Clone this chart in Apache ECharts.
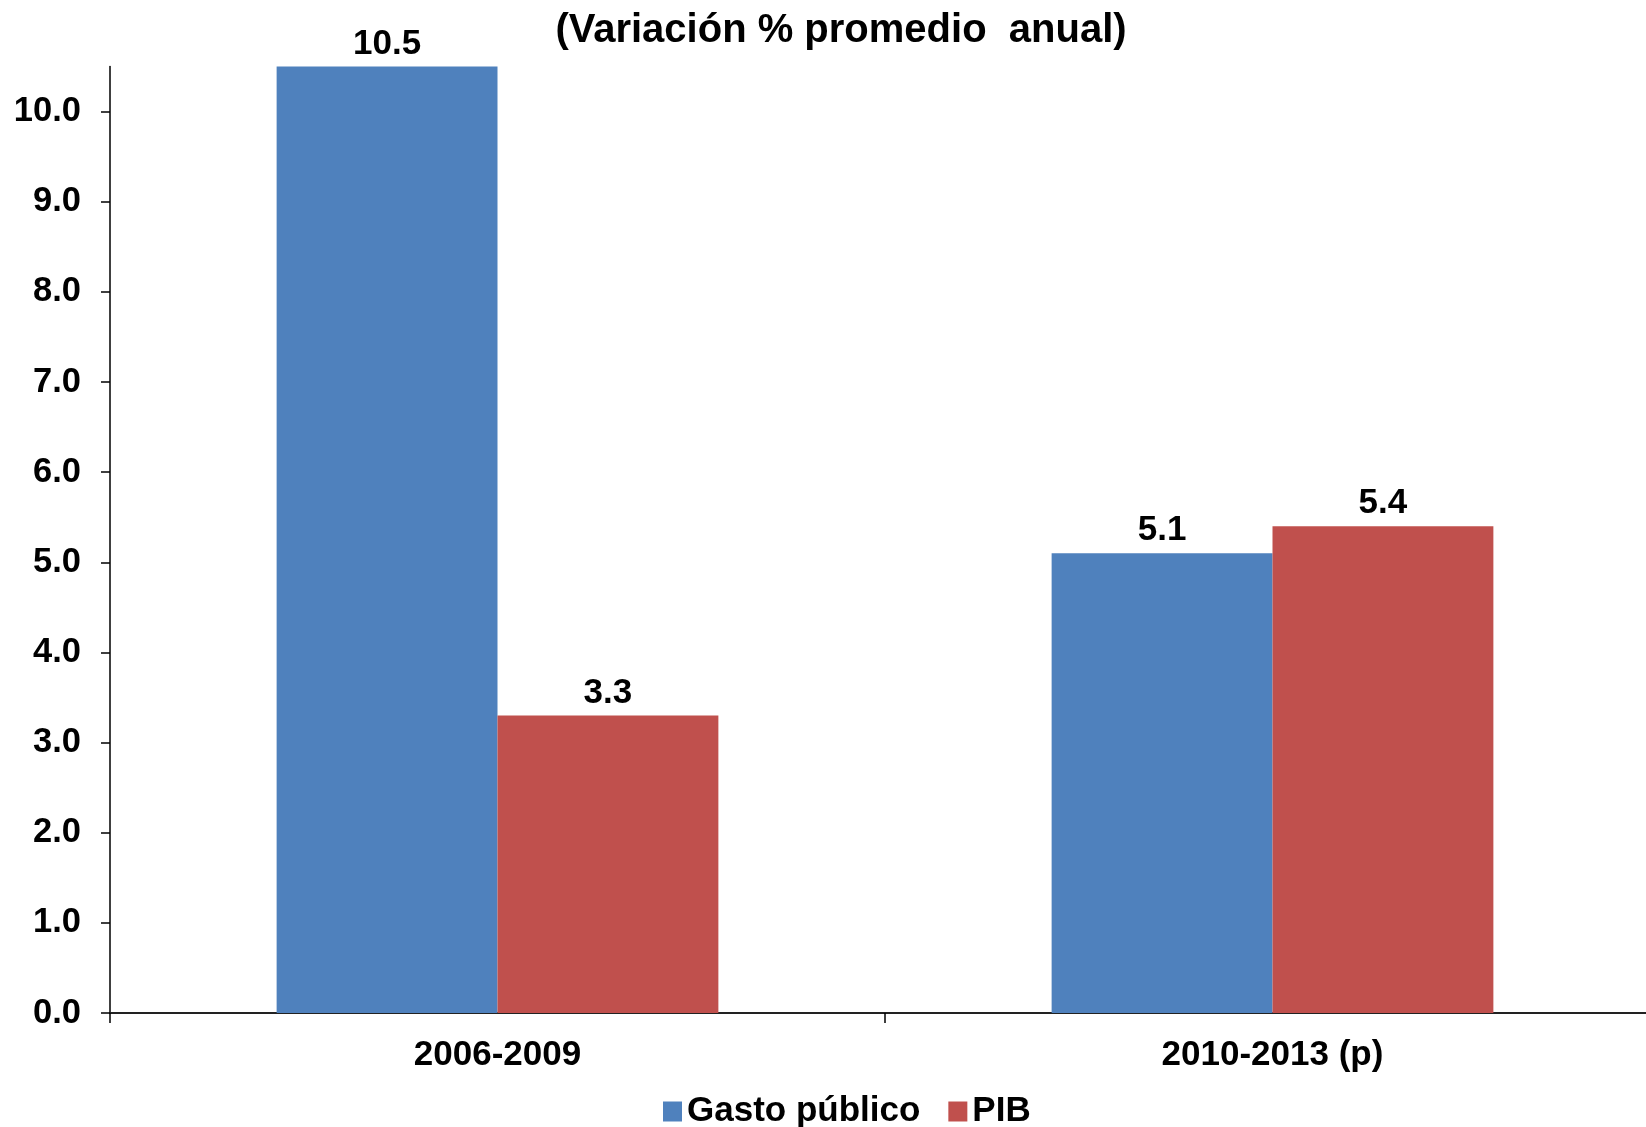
<!DOCTYPE html>
<html>
<head>
<meta charset="utf-8">
<script src="https://cdn.jsdelivr.net/npm/echarts@6/dist/echarts.min.js"></script>
<style>
html,body{margin:0;padding:0;background:#fff;overflow:hidden;}
#chart{width:1664px;height:1127px;}
</style>
</head>
<body>
<div id="chart"></div>
<script>
const titleText = '(Variación % promedio  anual)';
const categories = ['2006-2009', '2010-2013 (p)'];
const seriesNames = ['Gasto público', 'PIB'];
const gastoPublico = [10.5, 5.1];
const pib = [3.3, 5.4];
const yTicks = [0, 1, 2, 3, 4, 5, 6, 7, 8, 9, 10];

const FONT = '"Liberation Sans", Arial, sans-serif';
const chart = echarts.init(document.getElementById('chart'), null, {renderer: 'canvas'});

const labelStyle = {
  show: true,
  position: 'top',
  distance: 5,
  color: '#000',
  fontFamily: FONT,
  fontWeight: 'bold',
  fontSize: 35,
  formatter: p => p.value.toFixed(1)
};

chart.setOption({
  backgroundColor: '#fff',
  animation: false,
  title: {
    text: titleText,
    left: 841,
    textAlign: 'center',
    top: 11,
    padding: 0,
    textStyle: {fontFamily: FONT, fontWeight: 'bold', fontSize: 40, color: '#000'}
  },
  legend: {
    data: seriesNames,
    left: 663,
    top: 1094,
    padding: 0,
    itemWidth: 19,
    itemHeight: 20,
    itemGap: 28,
    icon: 'rect',
    textStyle: {fontFamily: FONT, fontWeight: 'bold', fontSize: 35, color: '#000'}
  },
  grid: {left: 110, top: 66.5, width: 1550, height: 946.5, containLabel: false},
  xAxis: {
    type: 'category',
    data: categories,
    axisLine: {show: true, lineStyle: {color: '#222', width: 2}},
    axisTick: {show: true, length: 10, alignWithLabel: false, lineStyle: {color: '#000', width: 1.5}},
    axisLabel: {
      margin: 25,
      color: '#000',
      fontFamily: FONT,
      fontWeight: 'bold',
      fontSize: 35
    },
    splitLine: {show: false}
  },
  yAxis: {
    type: 'value',
    min: 0,
    max: 10.5,
    interval: 1,
    axisLine: {show: true, lineStyle: {color: '#000', width: 1.5}},
    axisTick: {show: true, length: 9, lineStyle: {color: '#000', width: 1.5}, customValues: yTicks},
    axisLabel: {
      customValues: yTicks,
      margin: 29,
      color: '#000',
      fontFamily: FONT,
      fontWeight: 'bold',
      fontSize: 34.5,
      padding: [4, 0, 0, 0],
      formatter: v => v.toFixed(1)
    },
    splitLine: {show: false}
  },
  series: [
    {
      name: seriesNames[0],
      type: 'bar',
      data: gastoPublico,
      barGap: '0%',
      barCategoryGap: '43%',
      itemStyle: {color: '#4F81BD'},
      label: labelStyle
    },
    {
      name: seriesNames[1],
      type: 'bar',
      data: pib,
      barGap: '0%',
      barCategoryGap: '43%',
      itemStyle: {color: '#C0504D'},
      label: labelStyle
    }
  ]
});
</script>
</body>
</html>
